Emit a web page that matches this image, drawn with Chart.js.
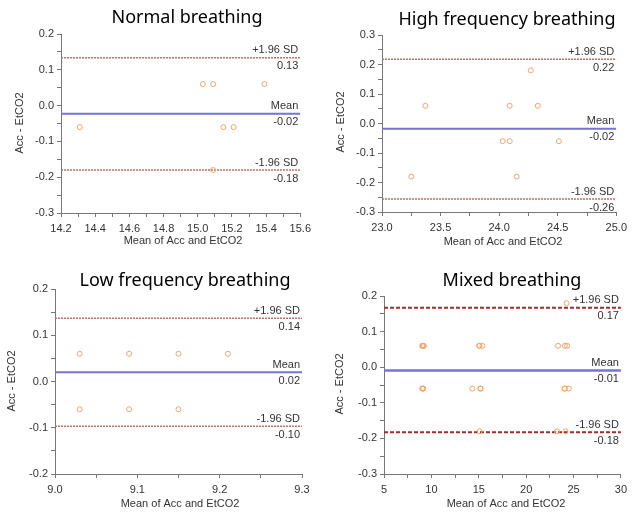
<!DOCTYPE html>
<html>
<head>
<meta charset="utf-8">
<script src="https://cdn.jsdelivr.net/npm/chart.js@4/dist/chart.umd.min.js"></script>
<style>
  body { margin: 0; background: #fff; }
  #wrap { position: relative; width: 632px; height: 512px; }
  canvas { position: absolute; }
</style>
</head>
<body>
<div id="wrap">
  <canvas id="normal" width="316" height="256" style="left:0;top:0"></canvas>
  <canvas id="high" width="316" height="256" style="left:316px;top:0"></canvas>
  <canvas id="low" width="316" height="256" style="left:0;top:256px"></canvas>
  <canvas id="mixed" width="316" height="256" style="left:316px;top:256px"></canvas>
</div>
<script>
// limits: +1.96 SD, mean, -1.96 SD
var limitNames = ['+1.96 SD', 'Mean', '-1.96 SD']

var normalX = [14.31, 15.03, 15.09, 15.09, 15.15, 15.21, 15.39]
var normalY = [-0.06, 0.06, 0.06, -0.18, -0.06, -0.06, 0.06]
var normalLimits = [0.134, -0.023, -0.180]
var normalXAxis = [14.2, 15.6, 0.1, 0.2]   // min, max, tick step, label step
var normalYAxis = [-0.3, 0.2, 0.05, 0.1]

var highX = [23.25, 23.37, 24.03, 24.09, 24.09, 24.15, 24.27, 24.33, 24.51]
var highY = [-0.18, 0.06, -0.06, -0.06, 0.06, -0.18, 0.18, 0.06, -0.06]
var highLimits = [0.218, -0.018, -0.256]
var highXAxis = [23.0, 25.0, 0.25, 0.5]
var highYAxis = [-0.3, 0.3, 0.05, 0.1]

var lowX = [9.03, 9.09, 9.15, 9.21, 9.03, 9.09, 9.15]
var lowY = [0.06, 0.06, 0.06, 0.06, -0.06, -0.06, -0.06]
var lowLimits = [0.137, 0.020, -0.097]
var lowXAxis = [9.0, 9.3, 0.05, 0.1]
var lowYAxis = [-0.2, 0.2, 0.05, 0.1]

var mixedX = [14.31, 15.03, 15.09, 15.09, 15.15, 15.21, 15.39,
              23.25, 23.37, 24.03, 24.09, 24.09, 24.15, 24.27, 24.33, 24.51,
              9.03, 9.09, 9.15, 9.21, 9.03, 9.09, 9.15]
var mixedY = [-0.06, 0.06, 0.06, -0.18, -0.06, -0.06, 0.06,
              -0.18, 0.06, -0.06, -0.06, 0.06, -0.18, 0.18, 0.06, -0.06,
              0.06, 0.06, 0.06, 0.06, -0.06, -0.06, -0.06]
var mixedLimits = [0.167, -0.009, -0.183]
var mixedXAxis = [5, 30, 2.5, 5]
var mixedYAxis = [-0.3, 0.2, 0.05, 0.1]

var tickFont = { family: '"Liberation Sans", Arial, sans-serif', size: 11 }

function onStep(value, step) {
    var r = Math.abs(value / step - Math.round(value / step))
    return r < 1e-6
}

function make_panel(id, title, xs, ys, limits, xAxis, yAxis, box, heavy) {
    var points = xs.map((x, i) => ({ x: x, y: ys[i] }))
    var limitColor = heavy ? '#a52a2a' : '#c0706a'

    var datasets = [{
        data: points,
        showLine: false,
        pointStyle: 'circle',
        pointRadius: 2.5,
        pointBackgroundColor: 'rgba(0,0,0,0)',
        pointBorderColor: '#f4a46e',
        pointBorderWidth: 1
    }]
    limits.forEach((v, i) => {
        datasets.push({
            data: [{ x: xAxis[0], y: v }, { x: xAxis[1], y: v }],
            showLine: true,
            pointRadius: 0,
            borderColor: i == 1 ? '#7474d4' : limitColor,
            borderWidth: i == 1 ? (heavy ? 2.5 : 2) : (heavy ? 2 : 1.5),
            borderDash: i == 1 ? [] : (heavy ? [4, 2] : [2, 1])
        })
    })

    var textPlugin = {
        id: 'panelText',
        afterDraw: function (chart) {
            var ctx = chart.ctx
            var area = chart.chartArea
            var yScale = chart.scales.y
            ctx.save()
            ctx.fillStyle = '#000'
            ctx.font = '18px "Noto Sans", sans-serif'
            ctx.textAlign = 'center'
            ctx.textBaseline = 'middle'
            ctx.fillText(title, box.title[0], box.title[1])

            ctx.fillStyle = '#333'
            ctx.font = '11px "Liberation Sans", Arial, sans-serif'
            ctx.fillText('Mean of Acc and EtCO2', box.xTitle[0], box.xTitle[1])
            ctx.save()
            ctx.translate(box.yTitle[0], box.yTitle[1])
            ctx.rotate(-Math.PI / 2)
            ctx.fillText('Acc - EtCO2', 0, 0)
            ctx.restore()

            ctx.textAlign = 'right'
            limits.forEach((v, i) => {
                var py = yScale.getPixelForValue(v)
                ctx.textBaseline = 'bottom'
                ctx.fillText(limitNames[i], area.right - 2, py - 2)
                ctx.textBaseline = 'top'
                ctx.fillText(v.toFixed(2), area.right - 2, py + 3)
            })
            ctx.restore()
        }
    }

    var ctx = document.getElementById(id)
    new Chart(ctx, {
        type: 'scatter',
        data: { datasets: datasets },
        options: {
            responsive: false,
            animation: false,
            layout: { padding: { left: 0, top: box.area[1], right: 316 - box.area[2], bottom: 0 } },
            plugins: { legend: { display: false }, tooltip: { enabled: false } },
            scales: {
                x: {
                    type: 'linear',
                    min: xAxis[0],
                    max: xAxis[1],
                    afterFit: function (s) { s.height = 256 - box.area[3] },
                    ticks: {
                        stepSize: xAxis[2],
                        autoSkip: false,
                        maxRotation: 0,
                        padding: 5,
                        color: '#333',
                        font: tickFont,
                        callback: function (value) {
                            if (!onStep(value, xAxis[3])) return ''
                            return xAxis[3] >= 1 ? String(Math.round(value)) : value.toFixed(1)
                        }
                    },
                    grid: { drawOnChartArea: false, drawTicks: true, tickLength: 4, color: '#777' },
                    border: { display: true, color: '#777', width: 1 }
                },
                y: {
                    type: 'linear',
                    min: yAxis[0],
                    max: yAxis[1],
                    afterFit: function (s) { s.width = box.area[0] },
                    ticks: {
                        stepSize: yAxis[2],
                        autoSkip: false,
                        padding: 3,
                        color: '#333',
                        font: tickFont,
                        callback: function (value) {
                            if (!onStep(value, yAxis[3])) return ''
                            return value.toFixed(1)
                        }
                    },
                    grid: { drawOnChartArea: false, drawTicks: true, tickLength: 4, color: '#777' },
                    border: { display: true, color: '#777', width: 1 }
                }
            }
        },
        plugins: [textPlugin]
    })
}

make_panel('normal', 'Normal breathing', normalX, normalY, normalLimits, normalXAxis, normalYAxis,
    { area: [61, 34, 302, 213], title: [187, 18], xTitle: [183, 241], yTitle: [20, 123] }, false)
make_panel('high', 'High frequency breathing', highX, highY, highLimits, highXAxis, highYAxis,
    { area: [66, 35, 309, 212], title: [191, 20], xTitle: [187, 242], yTitle: [25, 122] }, false)
make_panel('low', 'Low frequency breathing', lowX, lowY, lowLimits, lowXAxis, lowYAxis,
    { area: [55, 33, 302, 218], title: [185, 25], xTitle: [180, 248], yTitle: [12, 125] }, false)
make_panel('mixed', 'Mixed breathing', mixedX, mixedY, mixedLimits, mixedXAxis, mixedYAxis,
    { area: [68, 40, 308, 218], title: [196, 25], xTitle: [190, 248], yTitle: [24, 128] }, true)
</script>
</body>
</html>
